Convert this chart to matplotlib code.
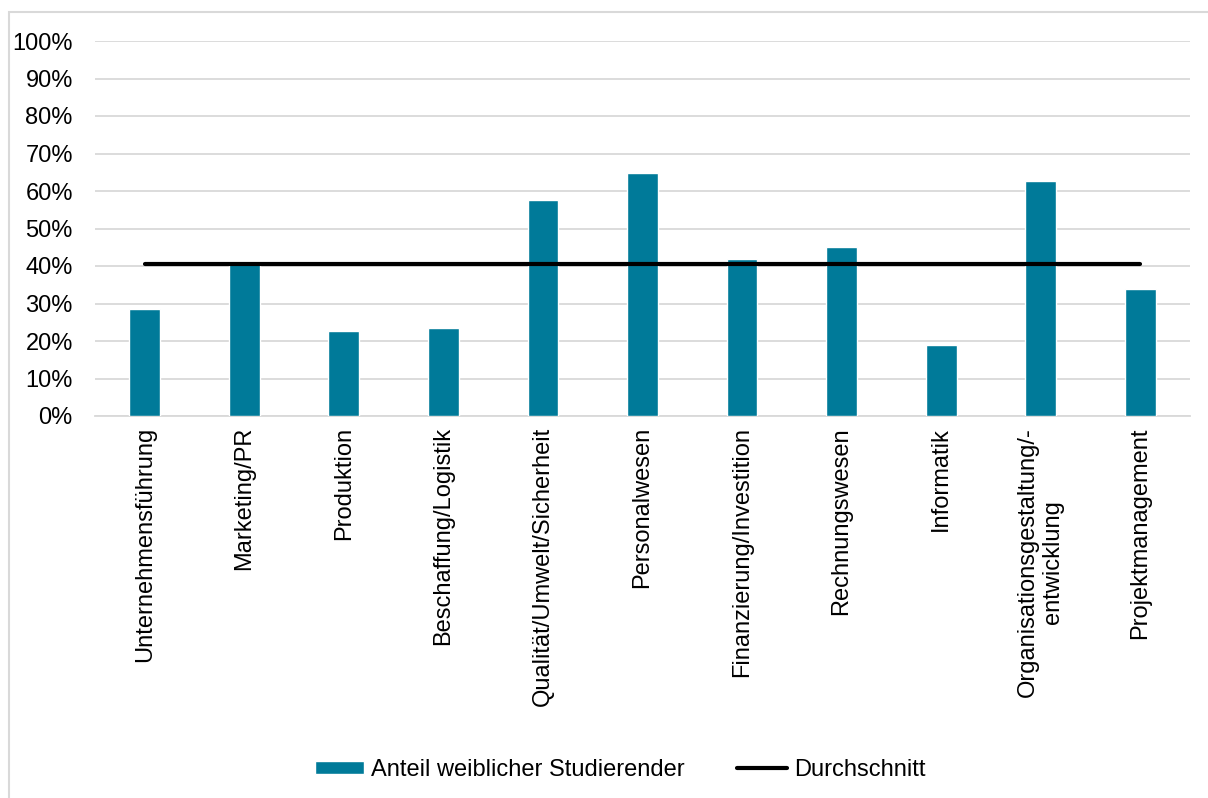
import matplotlib.pyplot as plt
from matplotlib.patches import Rectangle
from matplotlib.ticker import PercentFormatter

plt.rcParams['font.family'] = ['Liberation Sans', 'DejaVu Sans']

categories = [
    "Unternehmensführung",
    "Marketing/PR",
    "Produktion",
    "Beschaffung/Logistik",
    "Qualität/Umwelt/Sicherheit",
    "Personalwesen",
    "Finanzierung/Investition",
    "Rechnungswesen",
    "Informatik",
    "Organisationsgestaltung/-\nentwicklung",
    "Projektmanagement",
]
share_female = [0.286, 0.412, 0.226, 0.236, 0.575, 0.648, 0.419, 0.450, 0.189, 0.628, 0.339]
average = 0.405

bar_color = "#007a99"
grid_color = "#d9d9d9"

W, H = 1208, 798
fig = plt.figure(figsize=(W / 100, H / 100), dpi=100)

# light frame around the chart area (runs off the right and bottom edge)
fig.patches.append(Rectangle((9 / W, -0.1), 1.2, 1 - 12 / H + 0.1,
                             transform=fig.transFigure, fill=False,
                             edgecolor=grid_color, linewidth=1.5))

ax = fig.add_axes([95 / W, (H - 416) / H, (1190 - 95) / W, (416 - 41) / H])

x = range(len(categories))
bars = ax.bar(x, share_female, width=0.31, color=bar_color, edgecolor="white",
              linewidth=1.0, zorder=3)
avg_line, = ax.plot([0, len(categories) - 1], [average, average], color="black",
                    linewidth=3.0, solid_capstyle="round", zorder=4)

ax.set_xlim(-0.5, len(categories) - 0.5)
ax.set_ylim(0, 1)
ax.set_yticks([i / 10 for i in range(11)])
ax.yaxis.set_major_formatter(PercentFormatter(1.0, decimals=0))
ax.grid(axis="y", color=grid_color, linewidth=1.3, zorder=0)
ax.set_axisbelow(True)

ax.set_xticks(list(x))
ax.set_xticklabels(categories, rotation=90, ha="center", va="top",
                   multialignment="center")
ax.tick_params(axis="both", length=0, labelsize=17, colors="black")
ax.tick_params(axis="x", pad=8)
ax.tick_params(axis="y", pad=16)

for side in ["top", "right", "left"]:
    ax.spines[side].set_visible(False)
ax.spines["bottom"].set_color(grid_color)
ax.spines["bottom"].set_linewidth(1.3)

fig.legend([bars, avg_line], ["Anteil weiblicher Studierender", "Durchschnitt"],
           loc="center", bbox_to_anchor=(620 / W, 1 - 770 / H),
           ncol=2, frameon=False, fontsize=17, handlelength=2.1,
           handleheight=0.5, handletextpad=0.3, columnspacing=2.2)

fig.savefig("out.png", dpi=100)
